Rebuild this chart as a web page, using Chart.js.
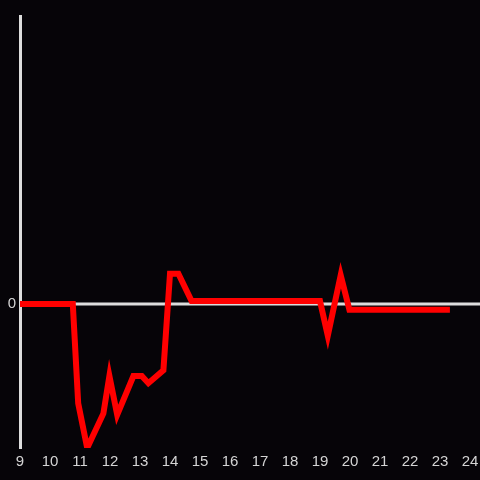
<!DOCTYPE html>
<html>
<head>
<meta charset="utf-8">
<script src="https://cdn.jsdelivr.net/npm/chart.js@4"></script>
<style>
  html, body { margin: 0; padding: 0; background: #060408; }
  #wrap { width: 480px; height: 480px; }
</style>
</head>
<body>
<div id="wrap"><canvas id="chart"></canvas></div>
<script>
// x positions (hours) and values of the red trace
const times = [9, 10.76, 10.94, 11.24, 11.78, 11.98, 12.24, 12.78, 13.06, 13.28, 13.78, 14.0, 14.28, 14.72, 19.0, 19.26, 19.69, 19.98, 23.33]
const values = [0, 0, -0.69, -1.0, -0.76, -0.5, -0.77, -0.5, -0.5, -0.55, -0.46, 0.21, 0.21, 0.02, 0.02, -0.22, 0.2, -0.04, -0.04]
const xMin = 9
const xMax = 24
const yMin = -1
const yMax = 2
const yTicks = [0]

// white line across the full width at y = 0
const zeroLine = {
    id: 'zeroLine',
    beforeDatasetsDraw(chart) {
        const ctx = chart.ctx
        const y = chart.scales.y.getPixelForValue(0)
        ctx.save()
        ctx.strokeStyle = '#dddddd'
        ctx.lineWidth = 3
        ctx.beginPath()
        ctx.moveTo(chart.chartArea.left, y)
        ctx.lineTo(chart.width, y)
        ctx.stroke()
        ctx.restore()
    }
}

function makeChart() {
    let canvas = document.getElementById('chart')
    const chart = new Chart(canvas, {
        type: 'line',
        data: {
            datasets: [{
                data: times.map((t, i) => ({x: t, y: values[i]})),
                borderColor: '#ff0000',
                borderWidth: 6,
                pointRadius: 0,
                tension: 0,
                fill: false
            }]
        },
        options: {
            responsive: true,
            maintainAspectRatio: false,
            animation: false,
            layout: {padding: {top: 16, right: 10, left: 0, bottom: 0}},
            plugins: {legend: {display: false}, tooltip: {enabled: false}},
            scales: {
                x: {
                    type: 'linear',
                    min: xMin,
                    max: xMax,
                    grid: {display: false, drawTicks: false},
                    border: {display: false},
                    ticks: {stepSize: 1, color: '#d4d4d4', padding: 5,
                        font: {family: 'Liberation Sans', size: 15}},
                    afterFit: (s) => { s.height = 32; s.paddingLeft = 0; s.paddingRight = 0 }
                },
                y: {
                    min: yMin,
                    max: yMax,
                    grid: {display: false, drawTicks: false},
                    border: {display: true, color: '#dddddd', width: 3},
                    afterBuildTicks: (s) => { s.ticks = yTicks.map(v => ({value: v})) },
                    ticks: {color: '#d4d4d4', padding: 4,
                        font: {family: 'Liberation Sans', size: 15}},
                    afterFit: (s) => { s.width = 20 }
                }
            }
        },
        plugins: [zeroLine]
    })
    return chart
}
makeChart()
</script>
</body>
</html>
